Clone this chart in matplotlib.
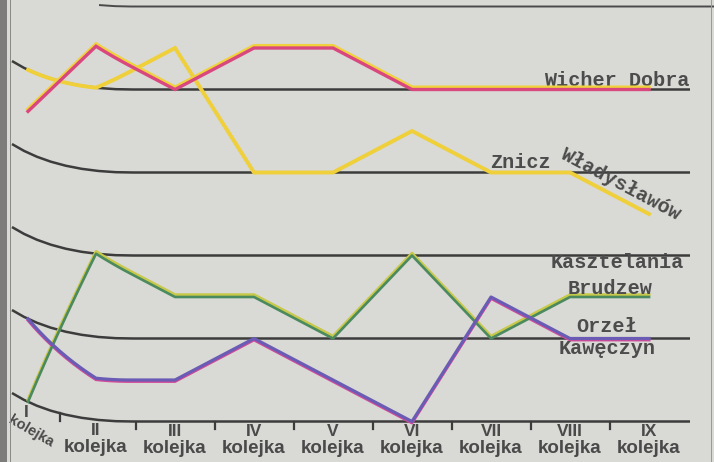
import numpy as np
import matplotlib
matplotlib.use("Agg")
import matplotlib.pyplot as plt
import matplotlib.transforms as mtransforms
from matplotlib.path import Path
from matplotlib.patches import Rectangle

# ---- data (league position after each round) ----
rounds = ["I", "II", "III", "IV", "V", "VI", "VII", "VIII", "IX"]
round_word = "kolejka"
wicher_dobra = [3, 1, 2, 1, 1, 2, 2, 2, 2]
znicz = [2, 2, 1, 4, 4, 3, 4, 4, 5]
kasztelania = [10, 6, 7, 7, 8, 6, 8, 7, 7]
orzel = [8, 9, 9, 8, 9, 10, 7, 8, 8]
ref_levels = [2, 4, 6, 8, 10]

# pixel mapping helpers (layout)
PX0, DX = 17.0, 79.0
PY0, DY = 6.5, 41.5


def px(xp, yp):
    return (xp - PX0) / DX, (yp - PY0) / DY


class Warp(mtransforms.Transform):
    """Page-curl distortion on the left side of the scanned chart."""
    input_dims = 2
    output_dims = 2
    is_separable = False
    has_inverse = False

    def transform_non_affine(self, values):
        v = np.asarray(values, float)
        nd = v.ndim
        v = np.atleast_2d(v)
        xp = PX0 + DX * v[:, 0]
        yp = PY0 + DY * v[:, 1]
        t = np.clip(1 - xp / 130.0, 0, None)
        s = np.clip(1 - xp / 100.0, 0, None)
        xp2 = xp + 16 * s ** 2
        yp2 = yp - 26 * t ** 2
        out = np.column_stack([(xp2 - PX0) / DX, (yp2 - PY0) / DY])
        return out if nd == 2 else out[0]

    def transform_path_non_affine(self, path):
        p = path.interpolated(40)
        return Path(self.transform_non_affine(p.vertices), p.codes)


fig = plt.figure(figsize=(7.14, 4.62), dpi=100)
fig.patch.set_facecolor("#d9d9d5")
ax = fig.add_axes([0, 0, 1, 1])
ax.set_facecolor("#d9d9d5")
ax.set_xlim(-PX0 / DX, (714 - PX0) / DX)
ax.set_ylim((462 - PY0) / DY, -PY0 / DY)
ax.axis("off")

W = Warp() + ax.transData

# reference lines
x_left = (-6 - PX0) / DX
x_right = (690 - PX0) / DX
for lv in ref_levels:
    ax.plot([x_left, x_right], [lv, lv], color="#3c3c3c", lw=1.8,
            transform=W, zorder=2, solid_capstyle="butt")
ax.plot([(100 - PX0) / DX, (714 - PX0) / DX], [0, 0], color="#4a4a4a",
        lw=1.4, transform=W, zorder=2)

x = np.arange(len(rounds))

# series
up = mtransforms.ScaledTranslation(0, 1.6 / 72, fig.dpi_scale_trans)
down = mtransforms.ScaledTranslation(0, -1.0 / 72, fig.dpi_scale_trans)
ax.plot(x, wicher_dobra, color="#f0d23c", lw=2.6, transform=W + up, zorder=4,
        solid_joinstyle="miter")
ax.plot(x, wicher_dobra, color="#d9477f", lw=2.4, transform=W, zorder=5,
        solid_joinstyle="miter")
ax.plot(x, znicz, color="#efd03a", lw=2.8, transform=W, zorder=3,
        solid_joinstyle="miter")
ax.plot(x, kasztelania, color="#c8c84a", lw=2.2, transform=W + up, zorder=3)
ax.plot(x, kasztelania, color="#4b8a5e", lw=1.9, transform=W, zorder=4)
ax.plot(x, orzel, color="#d04a9a", lw=2.2, transform=W + down, zorder=3)
ax.plot(x, orzel, color="#6a5cb4", lw=2.3, transform=W, zorder=4)

# ticks between rounds
for i in range(len(rounds) - 1):
    ax.plot([i + 0.5, i + 0.5], [10.0, 10.18], color="#3c3c3c", lw=1.6,
            transform=W, zorder=2)

# category labels
lab_font = dict(family="Liberation Sans", weight="bold", color="#4a4a4a")
for i, r in enumerate(rounds):
    if i == 0:
        ax.text(*px(26, 412), r, ha="center", va="center", fontsize=12.5,
                zorder=6, **lab_font)
        ax.text(*px(31, 431), round_word, ha="center", va="center",
                fontsize=10.5, rotation=-30, rotation_mode="anchor",
                zorder=6, **lab_font)
    else:
        ax.text(i, 10.25, r, ha="center", va="center", fontsize=12.5,
                transform=W, **lab_font)
        ax.text(i, 10.66, round_word, ha="center", va="center",
                fontsize=13.5, transform=W, **lab_font)

# series labels
mono = dict(family="Liberation Mono", weight="bold", color="#4c4c4c",
            fontsize=14.5)
ax.text(*px(690, 80), "Wicher Dobra", ha="right", va="center", **mono)
ax.text(*px(490, 163), "Znicz", ha="left", va="center", **mono)
ax.text(*px(620, 184), "Władysławów", ha="center", va="center",
        rotation=-28, rotation_mode="anchor", **mono)
ax.text(*px(684, 262), "Kasztelania", ha="right", va="center", **mono)
ax.text(*px(610, 288), "Brudzew", ha="center", va="center", **mono)
ax.text(*px(607, 327), "Orzeł", ha="center", va="center", **mono)
ax.text(*px(607, 349), "Kawęczyn", ha="center", va="center", **mono)

# scanned page border details
fig.patches.append(Rectangle((0, 0), 7 / 714, 1, transform=fig.transFigure,
                             facecolor="#7c7c7a", edgecolor="none", zorder=0))
fig.patches.append(Rectangle((9.5 / 714, 0), 1.2 / 714, 1, transform=fig.transFigure,
                             facecolor="#8a8a88", edgecolor="none", zorder=0))
fig.patches.append(Rectangle((710.5 / 714, 0), 1.2 / 714, 1, transform=fig.transFigure,
                             facecolor="#9a9a98", edgecolor="none", zorder=0))

fig.savefig("out.png", dpi=100, facecolor=fig.get_facecolor())
